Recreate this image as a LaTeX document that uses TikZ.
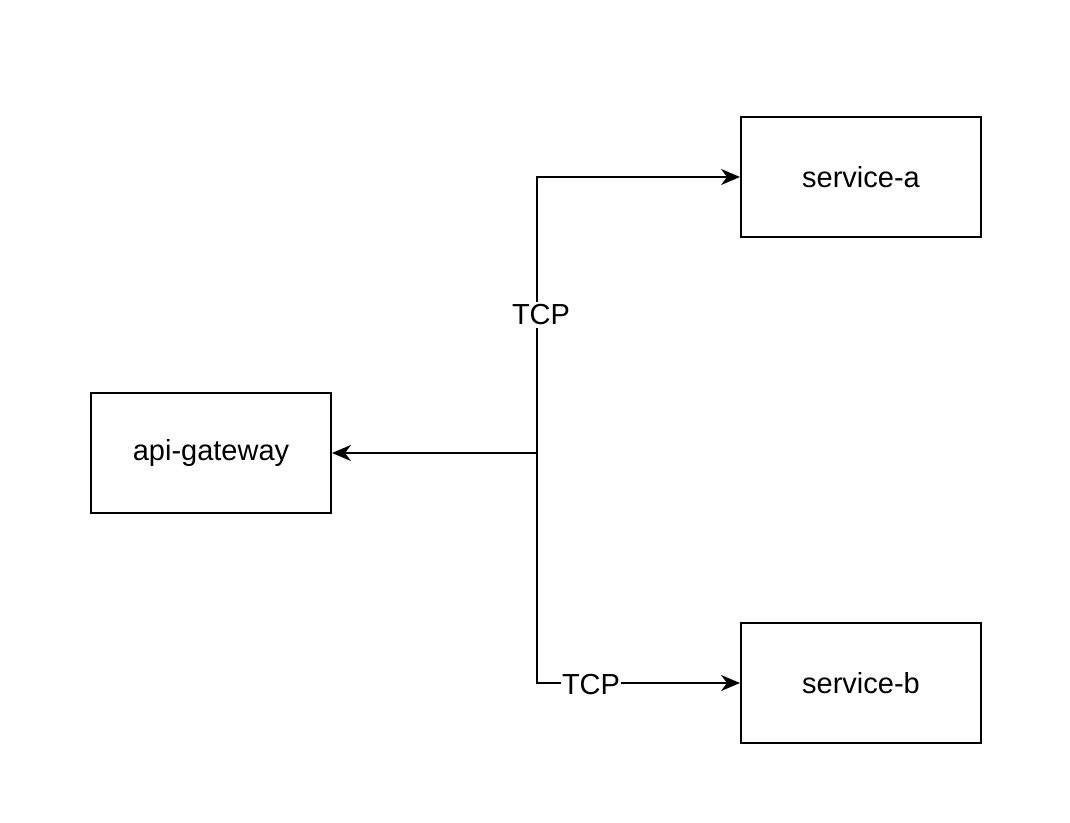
\documentclass[tikz,border=0pt]{standalone}
\usepackage{fontspec}
\setmainfont{Liberation Sans}
\usetikzlibrary{arrows.meta}
\begin{document}
\begin{tikzpicture}[x=1pt,y=-1pt,
  box/.style={draw,line width=2pt,minimum width=240pt,minimum height=120pt,inner sep=0pt,font=\fontsize{29}{34}\selectfont},
  conn/.style={line width=2pt,-{Stealth[length=19pt,width=16pt,inset=6pt]}},
  lbl/.style={fill=white,inner xsep=1pt,inner ysep=3pt,font=\fontsize{29}{34}\selectfont}]
\useasboundingbox (0,0) rectangle (1070,822);
\node[box] (gw) at (211,453) {api-gateway};
\node[box] (sa) at (861,177) {service-a};
\node[box] (sb) at (861,683) {service-b};
\coordinate (j) at (537,453);
\draw[conn] (j) -- (gw.east);
\draw[conn] (j) |- (sa.west);
\draw[conn] (j) |- (sb.west);
\node[lbl] (t1) at (541,315) {TCP};
\node[lbl] (t2) at (591,685) {TCP};
\end{tikzpicture}
\end{document}
